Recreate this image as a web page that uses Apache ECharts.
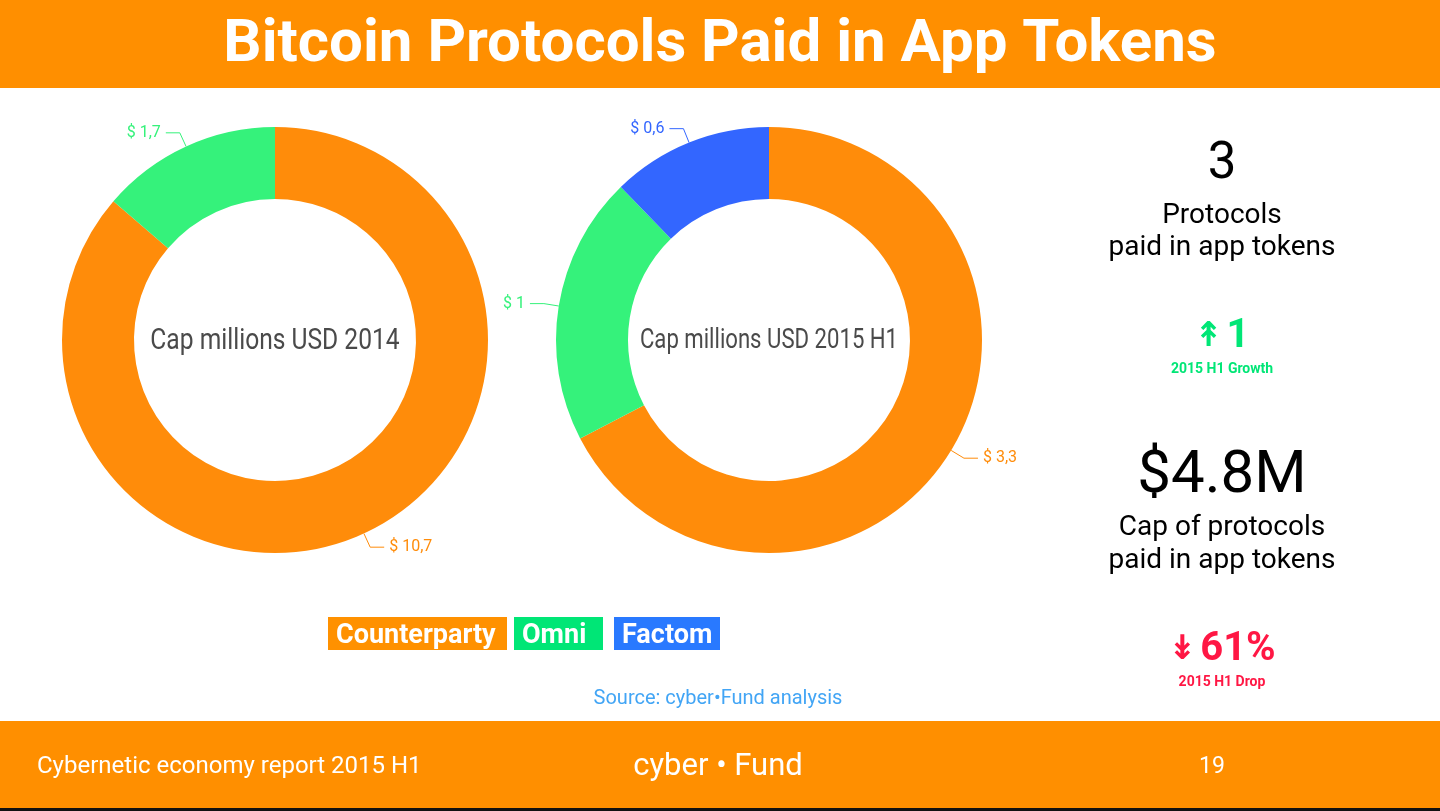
<!DOCTYPE html>
<html>
<head>
<meta charset="utf-8">
<script src="https://cdn.jsdelivr.net/npm/echarts@6/dist/echarts.min.js"></script>
<style>
  html, body { margin: 0; padding: 0; background: #fff; }
  #chart { width: 1440px; height: 811px; }
</style>
</head>
<body>
<div id="chart"></div>
<script>
// ---- data ----
var protocols = ['Counterparty', 'Omni', 'Factom'];
var cap2014 = [10.7, 1.7];
var cap2015H1 = [3.3, 1, 0.6];
var centerTitles = ['Cap millions USD 2014', 'Cap millions USD 2015 H1'];
var sliceColors = ['#FF8C0A', '#35F27B', '#3366FF'];
var legendColors = ['#FF9100', '#00E676', '#2979FF'];
var statProtocols = '3';
var statGrowth = '1';
var statCap = '$4.8M';
var statDrop = '61%';

var ORANGE = '#FF8F00';
var ROBOTO = 'Roboto, "Noto Sans", sans-serif';

function pieData(vals) {
  return vals.map(function (v, i) {
    return {
      name: protocols[i],
      value: v,
      itemStyle: { color: sliceColors[i] },
      label: { color: sliceColors[i] },
      labelLine: { lineStyle: { color: sliceColors[i] } }
    };
  });
}

function pieSeries(vals, center) {
  return {
    type: 'pie',
    center: center,
    radius: [141, 213],
    startAngle: 90,
    clockwise: true,
    silent: true,
    animation: false,
    label: {
      show: true,
      position: 'outside',
      fontFamily: 'Roboto',
      fontSize: 16,
      formatter: function (p) { return '$ ' + String(p.value).replace('.', ','); }
    },
    labelLine: { show: true, length: 15, length2: 14, lineStyle: { width: 1 } },
    data: pieData(vals)
  };
}

var legendX = [328, 514, 614];
var legendW = [179, 89, 106];

function centerText(x, txt, size) {
  return { type: 'text', x: x, y: 341, scaleX: 0.82, z: 100,
    style: { text: txt, fill: '#4a4a4a', font: size + 'px ' + ROBOTO, textAlign: 'center', textVerticalAlign: 'middle' } };
}

var graphic = [
  { type: 'rect', shape: { x: 0, y: 0, width: 1440, height: 88 }, style: { fill: ORANGE }, z: -1 },
  { type: 'text', x: 720, y: 46, style: { text: 'Bitcoin Protocols Paid in App Tokens', fill: '#fff', font: 'bold 60px ' + ROBOTO, textAlign: 'center', textVerticalAlign: 'middle' } },
  { type: 'rect', shape: { x: 0, y: 721, width: 1440, height: 88 }, style: { fill: ORANGE }, z: -1 },
  { type: 'rect', shape: { x: 0, y: 808, width: 1440, height: 3 }, style: { fill: '#111' }, z: -1 },
  { type: 'text', x: 37, y: 767, style: { text: 'Cybernetic economy report 2015 H1', fill: '#fff', font: '24px ' + ROBOTO, textAlign: 'left', textVerticalAlign: 'middle' } },
  { type: 'text', x: 718, y: 767, style: { text: 'cyber \u2022 Fund', fill: '#fff', font: '31px ' + ROBOTO, textAlign: 'center', textVerticalAlign: 'middle' } },
  { type: 'text', x: 1212, y: 767, style: { text: '19', fill: '#fff', font: '23px ' + ROBOTO, textAlign: 'center', textVerticalAlign: 'middle' } },
  { type: 'text', x: 718, y: 699, style: { text: 'Source: cyber\u2022Fund analysis', fill: '#42A5F5', font: '20px ' + ROBOTO, textAlign: 'center', textVerticalAlign: 'middle' } },
  centerText(275, centerTitles[0], 30),
  centerText(769, centerTitles[1], 27),
  // right stats
  { type: 'text', x: 1222, y: 165, style: { text: statProtocols, fill: '#000', font: '51px ' + ROBOTO, textAlign: 'center', textVerticalAlign: 'middle' } },
  { type: 'text', x: 1222, y: 216, style: { text: 'Protocols', fill: '#000', font: '28px ' + ROBOTO, textAlign: 'center', textVerticalAlign: 'middle' } },
  { type: 'text', x: 1222, y: 248, style: { text: 'paid in app tokens', fill: '#000', font: '28px ' + ROBOTO, textAlign: 'center', textVerticalAlign: 'middle' } },
  { type: 'text', x: 1222, y: 337, style: {
      text: '{a|\u219F} {b|' + statGrowth + '}', textAlign: 'center', textVerticalAlign: 'middle',
      rich: { a: { fill: '#00E676', font: 'bold 34px "DejaVu Sans", sans-serif' }, b: { fill: '#00E676', font: 'bold 40px ' + ROBOTO } } } },
  { type: 'text', x: 1222, y: 369, style: { text: '2015 H1 Growth', fill: '#00E676', font: 'bold 14px ' + ROBOTO, textAlign: 'center', textVerticalAlign: 'middle' } },
  { type: 'text', x: 1222, y: 477, style: { text: statCap, fill: '#000', font: '60px ' + ROBOTO, textAlign: 'center', textVerticalAlign: 'middle' } },
  { type: 'text', x: 1222, y: 528, style: { text: 'Cap of protocols', fill: '#000', font: '28px ' + ROBOTO, textAlign: 'center', textVerticalAlign: 'middle' } },
  { type: 'text', x: 1222, y: 561, style: { text: 'paid in app tokens', fill: '#000', font: '28px ' + ROBOTO, textAlign: 'center', textVerticalAlign: 'middle' } },
  { type: 'text', x: 1222, y: 650, style: {
      text: '{a|\u21A1} {b|' + statDrop + '}', textAlign: 'center', textVerticalAlign: 'middle',
      rich: { a: { fill: '#FF1744', font: 'bold 34px "DejaVu Sans", sans-serif' }, b: { fill: '#FF1744', font: 'bold 40px ' + ROBOTO } } } },
  { type: 'text', x: 1222, y: 682, style: { text: '2015 H1 Drop', fill: '#FF1744', font: 'bold 14px ' + ROBOTO, textAlign: 'center', textVerticalAlign: 'middle' } }
];

protocols.forEach(function (name, i) {
  graphic.push({ type: 'rect', shape: { x: legendX[i], y: 617, width: legendW[i], height: 33 }, style: { fill: legendColors[i] } });
  graphic.push({ type: 'text', x: legendX[i] + 8, y: 636, style: { text: name, fill: '#fff', font: 'bold 27px ' + ROBOTO, textAlign: 'left', textVerticalAlign: 'middle' } });
});

var chart = echarts.init(document.getElementById('chart'), null, { renderer: 'canvas' });
chart.setOption({
  animation: false,
  backgroundColor: '#fff',
  series: [pieSeries(cap2014, [275, 340]), pieSeries(cap2015H1, [769, 340])],
  graphic: graphic
});
</script>
</body>
</html>
